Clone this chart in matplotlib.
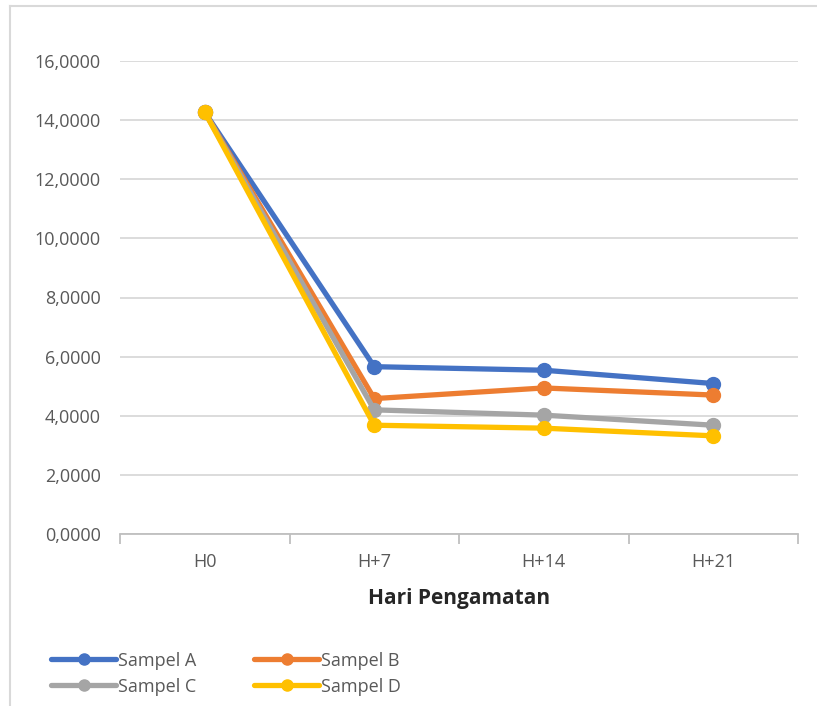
import matplotlib.pyplot as plt
from matplotlib.lines import Line2D

# observation days and measured values per sample
days = ['H0', 'H+7', 'H+14', 'H+21']
sampel_a = [14.27, 5.66, 5.54, 5.09]
sampel_b = [14.27, 4.58, 4.94, 4.70]
sampel_c = [14.27, 4.20, 4.02, 3.68]
sampel_d = [14.27, 3.68, 3.58, 3.32]

series = [
    ('Sampel A', sampel_a, '#4472C4'),
    ('Sampel B', sampel_b, '#ED7D31'),
    ('Sampel C', sampel_c, '#A5A5A5'),
    ('Sampel D', sampel_d, '#FFC000'),
]

plt.rcParams['font.family'] = ['Open Sans', 'DejaVu Sans']

fig = plt.figure(figsize=(8.17, 7.06), dpi=100)
W, H = 817, 706

# chart frame (left and top edges visible)
fig.add_artist(Line2D([10 / W, 10 / W], [0, 1 - 6 / H], transform=fig.transFigure,
                      color='#D9D9D9', lw=1.5))
fig.add_artist(Line2D([10 / W, 1], [1 - 6 / H, 1 - 6 / H], transform=fig.transFigure,
                      color='#D9D9D9', lw=1.5))

ax = fig.add_axes([120 / W, 1 - 534 / H, 678 / W, (534 - 61) / H])

x = list(range(len(days)))
lines = {}
for name, vals, col in series:
    ln, = ax.plot(x, vals, color=col, lw=3.8, marker='o', markersize=10,
                  solid_capstyle='round', label=name, zorder=3)
    lines[name] = ln

ax.set_xlim(-0.5, len(days) - 0.5)
ax.set_ylim(0, 16)
ax.set_yticks(range(0, 17, 2))
ax.set_yticklabels([f'{v},0000' for v in range(0, 17, 2)])
ax.set_xticks(x)
ax.set_xticklabels(days)
ax.set_xticks([i - 0.5 for i in range(len(days) + 1)], minor=True)

ax.grid(axis='y', color='#D9D9D9', lw=1.3, zorder=0)
for s in ['top', 'right', 'left']:
    ax.spines[s].set_visible(False)
ax.spines['bottom'].set_color('#BFBFBF')
ax.spines['bottom'].set_linewidth(1.3)
ax.tick_params(axis='y', length=0, pad=14, labelsize=13, labelcolor='#595959')
ax.tick_params(axis='x', which='major', length=0, pad=14, labelsize=13, labelcolor='#595959')
ax.tick_params(axis='x', which='minor', length=7, width=1.3, color='#BFBFBF')

ax.set_xlabel('Hari Pengamatan', fontsize=15, fontweight='bold', color='#262626', labelpad=12)

# legend fills column-wise, so order handles to read A B / C D across rows
order = ['Sampel A', 'Sampel C', 'Sampel B', 'Sampel D']
fig.legend([lines[n] for n in order], order,
           loc='lower left', bbox_to_anchor=(35 / W, -6 / H), ncol=2,
           frameon=False, fontsize=13, labelcolor='#595959',
           handlelength=3.6, handletextpad=0.1, columnspacing=3.2,
           labelspacing=0.45, markerscale=0.8)

fig.savefig('out.png', dpi=100)
